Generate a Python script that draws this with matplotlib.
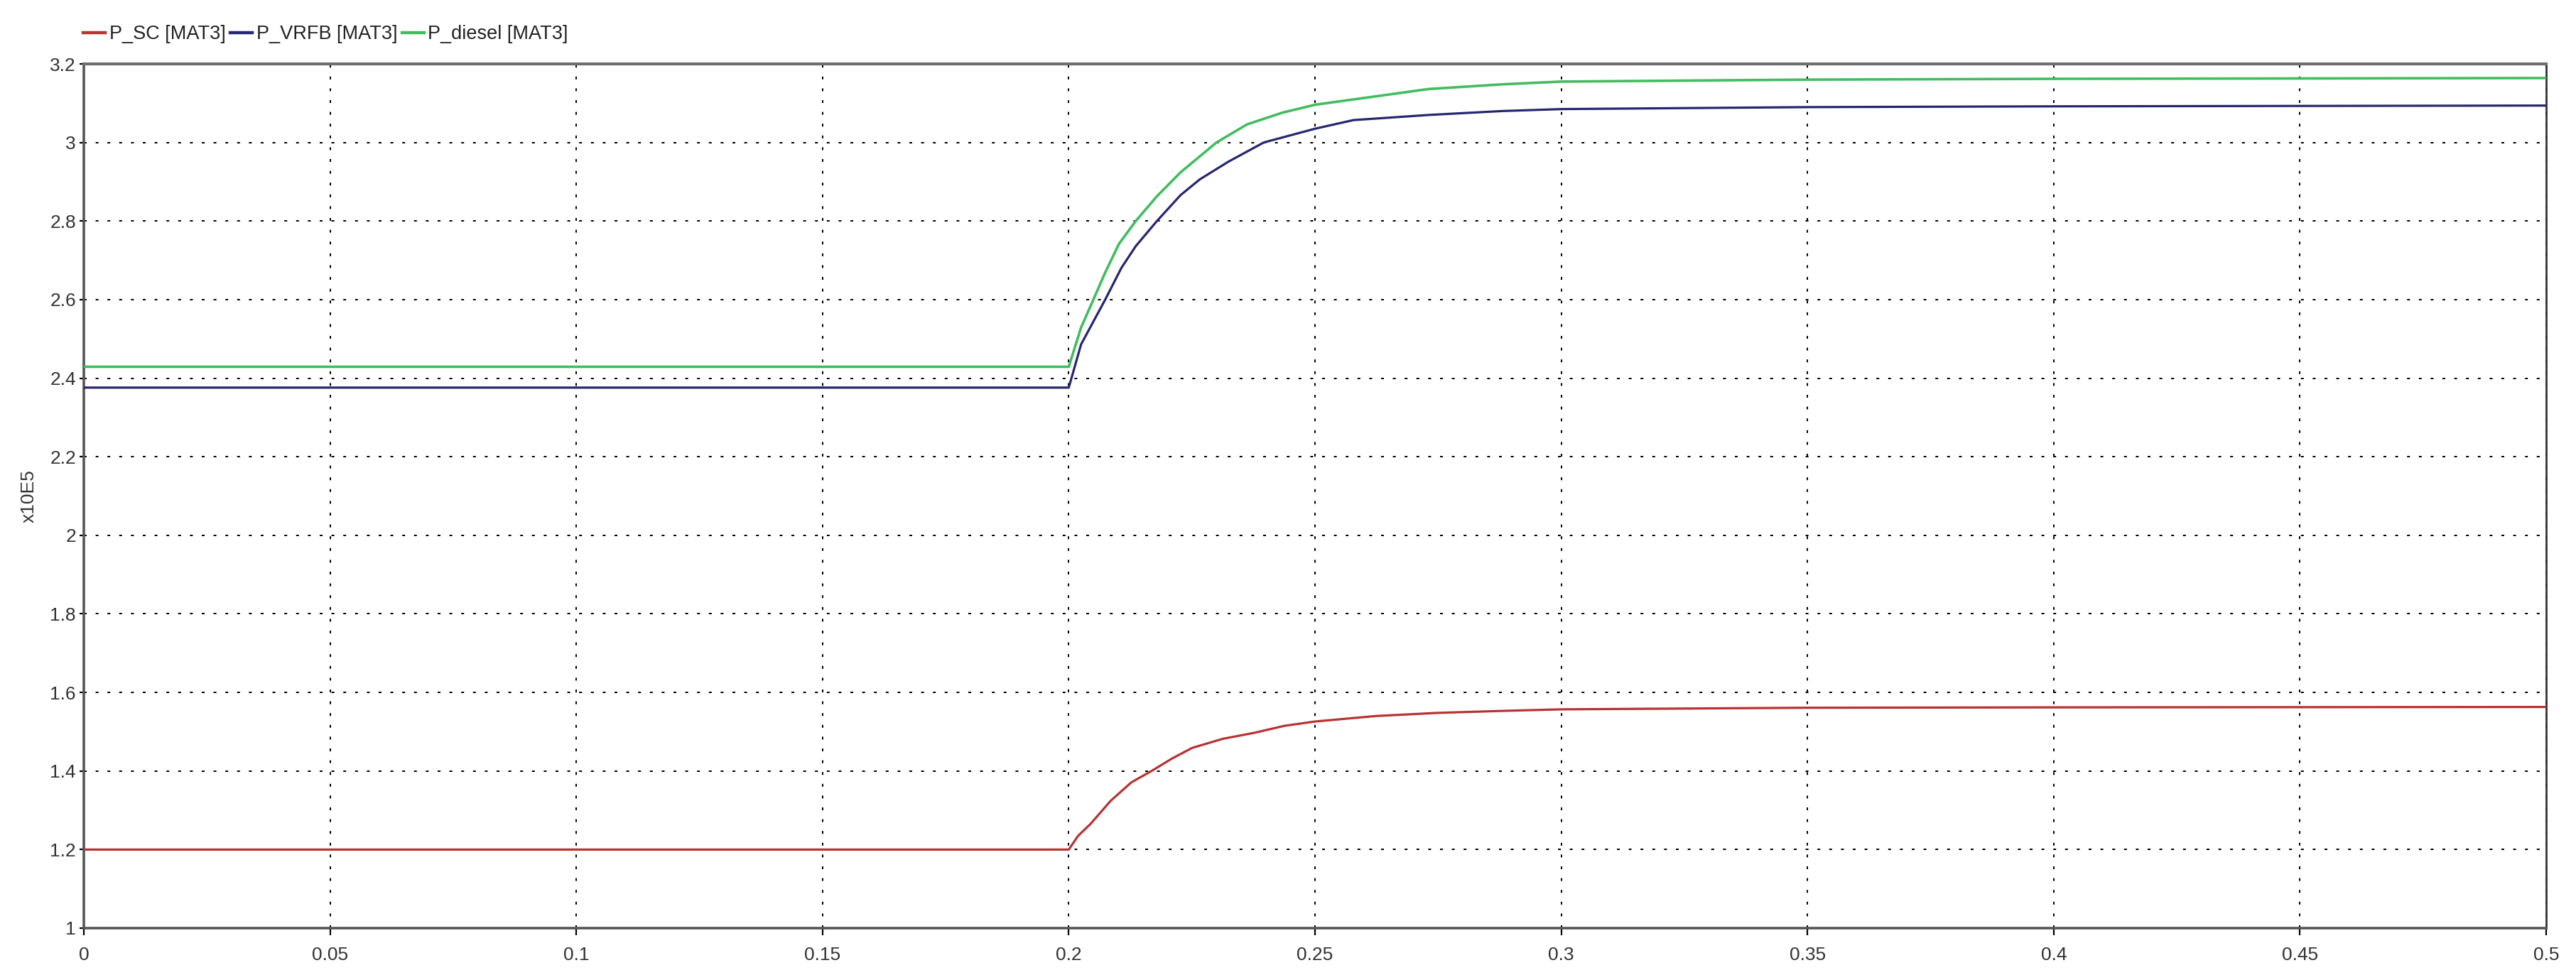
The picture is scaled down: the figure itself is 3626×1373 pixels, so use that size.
import matplotlib
matplotlib.use("Agg")
import matplotlib.pyplot as plt
from matplotlib.lines import Line2D

plt.rcParams['font.family'] = ['Liberation Sans', 'DejaVu Sans']

# time axis [s] and power values [x10E5 W]
t_sc = [0, 0.2, 0.2019, 0.2044, 0.2085, 0.2127, 0.2168, 0.221, 0.2251, 0.2313, 0.2376,
        0.2438, 0.25, 0.2624, 0.275, 0.288, 0.3, 0.35, 0.4, 0.5]
p_sc = [1.2, 1.2, 1.235, 1.265, 1.324, 1.371, 1.40, 1.432, 1.459, 1.482, 1.497,
        1.515, 1.526, 1.540, 1.548, 1.553, 1.557, 1.561, 1.562, 1.563]

t_vrfb = [0, 0.2, 0.2025, 0.2074, 0.2107, 0.2136, 0.2179, 0.2227, 0.2266, 0.2324, 0.2396,
          0.25, 0.2578, 0.273, 0.288, 0.3, 0.35, 0.4, 0.5]
p_vrfb = [2.376, 2.376, 2.486, 2.60, 2.681, 2.736, 2.80, 2.866, 2.906, 2.951, 3.0,
          3.035, 3.057, 3.07, 3.08, 3.085, 3.09, 3.092, 3.094]

t_diesel = [0, 0.2, 0.2025, 0.205, 0.2074, 0.2102, 0.2136, 0.2179, 0.2227, 0.23, 0.2362,
            0.2434, 0.25, 0.273, 0.288, 0.3, 0.35, 0.4, 0.5]
p_diesel = [2.429, 2.429, 2.529, 2.60, 2.669, 2.742, 2.80, 2.863, 2.924, 3.0, 3.046,
            3.076, 3.096, 3.136, 3.148, 3.155, 3.16, 3.162, 3.164]

names = ['P_SC [MAT3]', 'P_VRFB [MAT3]', 'P_diesel [MAT3]']
colors = ['#b83232', '#262670', '#43bc60']

xticks = [0, 0.05, 0.1, 0.15, 0.2, 0.25, 0.3, 0.35, 0.4, 0.45, 0.5]
xlabels = ['0', '0.05', '0.1', '0.15', '0.2', '0.25', '0.3', '0.35', '0.4', '0.45', '0.5']
yticks = [1, 1.2, 1.4, 1.6, 1.8, 2, 2.2, 2.4, 2.6, 2.8, 3, 3.2]
ylabels = ['1', '1.2', '1.4', '1.6', '1.8', '2', '2.2', '2.4', '2.6', '2.8', '3', '3.2']

fig = plt.figure(figsize=(36.26, 13.73), dpi=100)
ax = fig.add_axes([118 / 3626, 1 - 1307 / 1373, (3584 - 118) / 3626, (1307 - 90) / 1373])

ax.plot(t_sc, p_sc, color=colors[0], lw=2.3, zorder=3)
ax.plot(t_vrfb, p_vrfb, color=colors[1], lw=2.3, zorder=3)
ax.plot(t_diesel, p_diesel, color=colors[2], lw=2.6, zorder=3)

ax.set_xlim(0, 0.5)
ax.set_ylim(1, 3.2)
ax.set_xticks(xticks)
ax.set_xticklabels(xlabels)
ax.set_yticks(yticks)
ax.set_yticklabels(ylabels)

ax.grid(True, color='black', linestyle=(0, (2, 6.3)), linewidth=1.44, zorder=1)
ax.set_axisbelow(True)

ax.tick_params(axis='x', direction='out', length=7, width=1.6, color='black',
               pad=11.5, labelsize=19, labelcolor='#333333')
ax.tick_params(axis='y', direction='out', length=4, width=1.6, color='black',
               pad=4, labelsize=19, labelcolor='#333333')

ax.spines['left'].set_color('#555555')
ax.spines['left'].set_linewidth(2.6)
ax.spines['bottom'].set_color('#555555')
ax.spines['bottom'].set_linewidth(2.6)
ax.spines['top'].set_color('#6e6e6e')
ax.spines['top'].set_linewidth(3)
ax.spines['right'].set_color('#333333')
ax.spines['right'].set_linewidth(2)

ax.set_ylabel('x10E5', fontsize=19, color='#333333')
ax.yaxis.set_label_coords(-0.0188, 0.5)

handles = [Line2D([], [], color=c, lw=3.2) for c in colors]
fig.legend(handles, names, loc='center left', bbox_to_anchor=(117 / 3626, 1 - 48 / 1373),
           ncol=3, frameon=False, fontsize=19.5, handlelength=1.15, handletextpad=0.2,
           columnspacing=0.25, borderpad=0, borderaxespad=0, labelcolor='#222222')

fig.savefig('out.png', dpi=100)
